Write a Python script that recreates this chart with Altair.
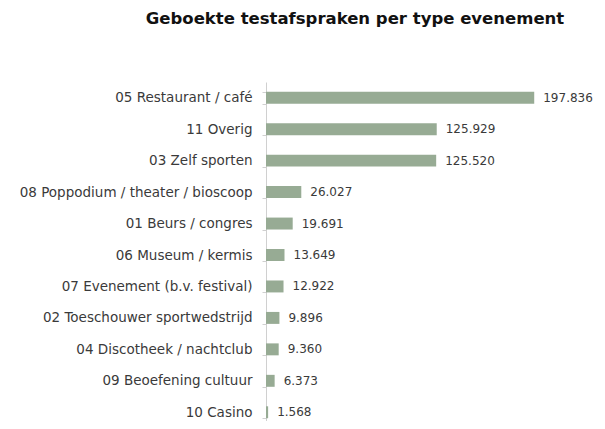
import altair as alt
import pandas as pd

categories = [
    "05 Restaurant / café",
    "11 Overig",
    "03 Zelf sporten",
    "08 Poppodium / theater / bioscoop",
    "01 Beurs / congres",
    "06 Museum / kermis",
    "07 Evenement (b.v. festival)",
    "02 Toeschouwer sportwedstrijd",
    "04 Discotheek / nachtclub",
    "09 Beoefening cultuur",
    "10 Casino",
]
values = [197836, 125929, 125520, 26027, 19691, 13649, 12922, 9896, 9360, 6373, 1568]

df = pd.DataFrame({"cat": categories, "val": values})

FONT = "DejaVu Sans"

y = alt.Y(
    "cat:N",
    sort=categories,
    title=None,
    scale=alt.Scale(paddingInner=0.62, paddingOuter=0.31, range=[0, 346]),
    axis=alt.Axis(
        domainColor="#d0d0d0",
        tickColor="#d0d0d0",
        tickSize=4,
        tickBand="extent",
        labelFont=FONT,
        labelFontSize=13.5,
        labelColor="#3a3a3a",
        labelPadding=10,
        labelLimit=400,
    ),
)
x = alt.X(
    "val:Q",
    title=None,
    scale=alt.Scale(domain=[0, 237500], nice=False),
    axis=None,
)

bars = alt.Chart(df).mark_bar(color="#97ab94").encode(y=y, x=x)
labels = (
    alt.Chart(df)
    .transform_calculate(lbl="replace(format(datum.val, ',d'), ',', '.')")
    .mark_text(align="left", baseline="middle", dx=9, font=FONT, fontSize=12, color="#3a3a3a")
    .encode(y=alt.Y("cat:N", sort=categories), x=alt.X("val:Q"), text="lbl:N")
)

chart = (
    alt.layer(bars, labels)
    .properties(
        width=322,
        height=339,
        autosize=alt.AutoSizeParams(type="none"),
        padding={"left": 258, "top": 74, "right": 9, "bottom": 0},
        title=alt.TitleParams(
            "Geboekte testafspraken per type evenement",
            font=FONT,
            fontSize=16.5,
            fontWeight="bold",
            color="#111111",
            anchor="middle",
            dx=-72,
            offset=48,
        ),
    )
    .configure_view(stroke=None)
)

chart.save("out.html", embed_options={"renderer": "svg", "actions": False})
